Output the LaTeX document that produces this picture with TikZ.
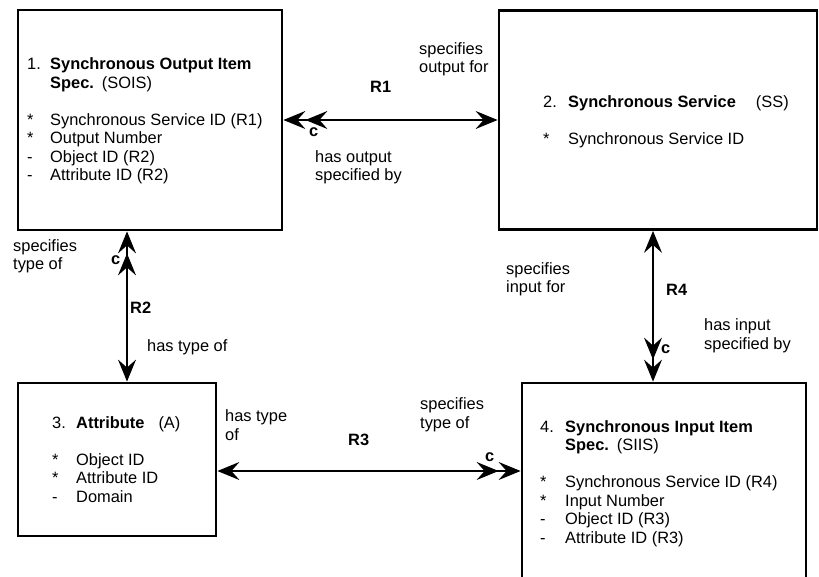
\documentclass[tikz,border=0pt]{standalone}
\usepackage{fontspec}
\setmainfont{Liberation Sans}
\usetikzlibrary{arrows.meta}

\tikzset{
    ent/.style={draw, line width=2.8pt, inner sep=0pt},
    txt/.style={anchor=base west, inner sep=0pt, align=left},
    rel/.style={line width=1.2pt},
}

\begin{document}
\begin{tikzpicture}[x=1pt,y=-1pt,
    >={Stealth[length=22pt,width=18pt,inset=8pt,sep=0pt]},
    every node/.style={font=\fontsize{16.4}{18.5}\selectfont}]

    \path[use as bounding box, clip] (0,0) rectangle (819,577);

    % the four objects
    \node[ent, minimum width=264, minimum height=220] (sois) at (150,120) {};
    \node[ent, minimum width=318, minimum height=219] (ss) at (658,120) {};
    \node[ent, minimum width=198, minimum height=153] (attr) at (117,459.5) {};
    \node[ent, minimum width=284, minimum height=240] (siis) at (664,503) {};

    \node[txt] (soistxt) at (27,70) {\begin{tabular}[t]{@{}p{23pt}@{}l@{}}
        1. & \textbf{Synchronous Output Item}\\
           & \textbf{Spec.}\hspace{8pt}(SOIS)\\
           & \\
        {*} & Synchronous Service ID (R1)\\
        {*} & Output Number\\
        -   & Object ID (R2)\\
        -   & Attribute ID (R2)
    \end{tabular}};
    \node[txt] (sstxt) at (543,108) {\begin{tabular}[t]{@{}p{25pt}@{}l@{}}
        2. & \textbf{Synchronous Service}\hspace{20pt}(SS)\\
           & \\
        {*} & Synchronous Service ID
    \end{tabular}};
    \node[txt] (attrtxt) at (52,428) {\begin{tabular}[t]{@{}p{24pt}@{}l@{}}
        3. & \textbf{Attribute}\hspace{14pt}(A)\\
           & \\
        {*} & Object ID\\
        {*} & Attribute ID\\
        -   & Domain
    \end{tabular}};
    \node[txt] (siistxt) at (540,432) {\begin{tabular}[t]{@{}p{25pt}@{}l@{}}
        4. & \textbf{Synchronous Input Item}\\
           & \textbf{Spec.}\hspace{8pt}(SIIS)\\
           & \\
        {*} & Synchronous Service ID (R4)\\
        {*} & Input Number\\
        -   & Object ID (R3)\\
        -   & Attribute ID (R3)
    \end{tabular}};

    % R1
    \draw[rel, <<->] (sois.east) -- (ss.west);
    \node[txt] (r1) at (370,93) {\textbf{R1}};
    \node[txt] (r1a) at (419,73) {specifies\\output for};
    \node[txt] (r1b) at (315,181) {has output\\specified by};
    \node[txt] (r1c) at (309,137) {\textbf{c}};

    % R2
    \draw[rel, <<->] ([xshift=-23pt]sois.south) -- ([xshift=10pt]attr.north);
    \node[txt] (r2) at (130,313) {\textbf{R2}};
    \node[txt] (r2a) at (13,270) {specifies\\type of};
    \node[txt] (r2b) at (147,351) {has type of};
    \node[txt] (r2c) at (111,265) {\textbf{c}};

    % R4
    \draw[rel, <->>] ([xshift=-5pt]ss.south) -- ([xshift=-11pt]siis.north);
    \node[txt] (r4) at (666,295) {\textbf{R4}};
    \node[txt] (r4a) at (506,293) {specifies\\input for};
    \node[txt] (r4b) at (704,349) {has input\\specified by};
    \node[txt] (r4c) at (661,353) {\textbf{c}};

    % R3
    \draw[rel, <->>] ([yshift=-11.5pt]attr.east) coordinate (r3e) -- (r3e -| siis.west);
    \node[txt] (r3) at (348,445) {\textbf{R3}};
    \node[txt] (r3a) at (225,440) {has type\\of};
    \node[txt] (r3b) at (420,428) {specifies\\type of};
    \node[txt] (r3c) at (485,461) {\textbf{c}};
\end{tikzpicture}
\end{document}
